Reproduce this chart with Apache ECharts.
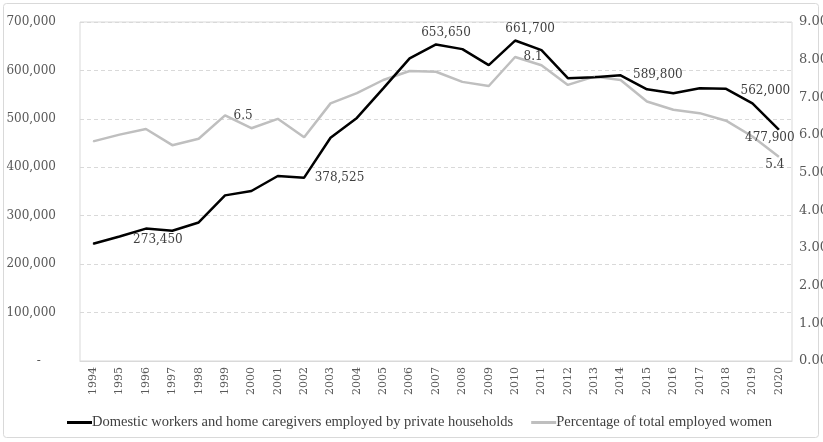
<!DOCTYPE html>
<html>
<head>
<meta charset="utf-8">
<script src="https://cdn.jsdelivr.net/npm/echarts@6/dist/echarts.min.js"></script>
<style>
	html, body { margin: 0; padding: 0; background: #fff; }
	#chart { width: 823px; height: 442px; }
</style>
</head>
<body>
<div id="chart"></div>
<script>
var years = ['1994', '1995', '1996', '1997', '1998', '1999', '2000', '2001', '2002', '2003', '2004', '2005', '2006', '2007', '2008', '2009', '2010', '2011', '2012', '2013', '2014', '2015', '2016', '2017', '2018', '2019', '2020'];
var domesticWorkers = [242000, 257000, 273450, 269000, 286000, 342000, 351000, 382000, 378525, 461000, 502000, 563000, 625000, 653650, 644000, 611000, 661700, 642000, 584000, 586000, 589800, 561000, 553000, 563000, 562000, 532000, 477900];
var pctEmployedWomen = [5.83, 6.01, 6.16, 5.73, 5.90, 6.52, 6.18, 6.43, 5.94, 6.84, 7.11, 7.46, 7.70, 7.68, 7.41, 7.30, 8.07, 7.85, 7.33, 7.55, 7.46, 6.89, 6.67, 6.58, 6.38, 5.96, 5.42];
var leftTicks = [0, 100000, 200000, 300000, 400000, 500000, 600000, 700000];
var rightTicks = [0, 1, 2, 3, 4, 5, 6, 7, 8, 9];

var serif = 'DejaVu Serif';

function fmt(v) {
	return v.toString().replace(/\B(?=(\d{3})+(?!\d))/g, ',');
}

// which points carry a data label, and where it goes
var domLabels = {
	2: { position: 'bottom', offset: [12, 0] },
	8: { position: 'right', distance: 10 },
	13: { position: 'top', offset: [10, 0] },
	16: { position: 'top', offset: [15, 0] },
	20: { position: 'right', distance: 12 },
	24: { position: 'right', distance: 14, offset: [0, 2] },
	26: { position: 'bottom', offset: [-9, -3] }
};
var pctLabels = {
	5: { position: 'right', distance: 8 },
	16: { position: 'right', distance: 8 },
	26: { position: 'bottom', offset: [-4, -3] }
};

function withLabels(values, labels, formatter) {
	return values.map(function (v, i) {
		if (!labels[i]) return v;
		var l = labels[i];
		return {
			value: v,
			label: {
				show: true,
				position: l.position,
				distance: l.distance || 5,
				offset: l.offset || [0, 0],
				formatter: formatter,
				color: '#404040',
				fontFamily: serif,
				fontSize: 12
			}
		};
	});
}

var chart = echarts.init(document.getElementById('chart'));
var option = {
	animation: false,
	backgroundColor: '#fff',
	graphic: [{
		type: 'rect',
		shape: { x: 3.5, y: 3.5, width: 815, height: 434, r: 3 },
		style: { fill: 'none', stroke: '#d9d9d9', lineWidth: 1 },
		silent: true
	}],
	grid: {
		left: 80,
		right: 31,
		top: 22,
		bottom: 81,
		outerBoundsMode: 'none',
		containLabel: false,
		show: true,
		borderColor: '#d9d9d9',
		borderWidth: 1
	},
	legend: {
		top: 410,
		left: 62,
		icon: 'rect',
		itemWidth: 25,
		itemHeight: 3,
		itemGap: 18,
		textStyle: { fontFamily: 'Liberation Serif', fontSize: 14.5, color: '#404040', padding: [0, 0, 0, -5] },
		data: ['Domestic workers and home caregivers employed by private households', 'Percentage of total employed women']
	},
	xAxis: {
		type: 'category',
		data: years,
		axisLine: { lineStyle: { color: '#d9d9d9' } },
		axisTick: { show: false },
		axisLabel: {
			interval: 0,
			rotate: 90,
			margin: 6,
			color: '#595959',
			fontFamily: serif,
			fontSize: 11
		}
	},
	yAxis: [{
		type: 'value',
		min: leftTicks[0],
		max: leftTicks[leftTicks.length - 1],
		interval: leftTicks[1] - leftTicks[0],
		axisLine: { show: false },
		axisTick: { show: false },
		splitLine: { lineStyle: { color: '#d9d9d9', type: [4, 3] } },
		axisLabel: {
			margin: 24,
			color: '#595959',
			fontFamily: serif,
			fontSize: 12,
			formatter: function (v) { return v === 0 ? '-    ' : fmt(v); }
		}
	}, {
		type: 'value',
		min: rightTicks[0],
		max: rightTicks[rightTicks.length - 1],
		interval: rightTicks[1] - rightTicks[0],
		axisLine: { show: false },
		axisTick: { show: false },
		splitLine: { show: false },
		axisLabel: {
			margin: 7,
			color: '#595959',
			fontFamily: serif,
			fontSize: 13,
			formatter: function (v) { return v.toFixed(2); }
		}
	}],
	series: [{
		name: 'Percentage of total employed women',
		type: 'line',
		yAxisIndex: 1,
		symbol: 'circle',
		symbolSize: 1,
		data: withLabels(pctEmployedWomen, pctLabels, function (p) { return p.value.toFixed(1); }),
		lineStyle: { color: '#bfbfbf', width: 2.5 },
		itemStyle: { color: '#bfbfbf' }
	}, {
		name: 'Domestic workers and home caregivers employed by private households',
		type: 'line',
		symbol: 'circle',
		symbolSize: 1,
		data: withLabels(domesticWorkers, domLabels, function (p) { return fmt(p.value); }),
		lineStyle: { color: '#000', width: 2.5 },
		itemStyle: { color: '#000' }
	}]
};
chart.setOption(option);
</script>
</body>
</html>
